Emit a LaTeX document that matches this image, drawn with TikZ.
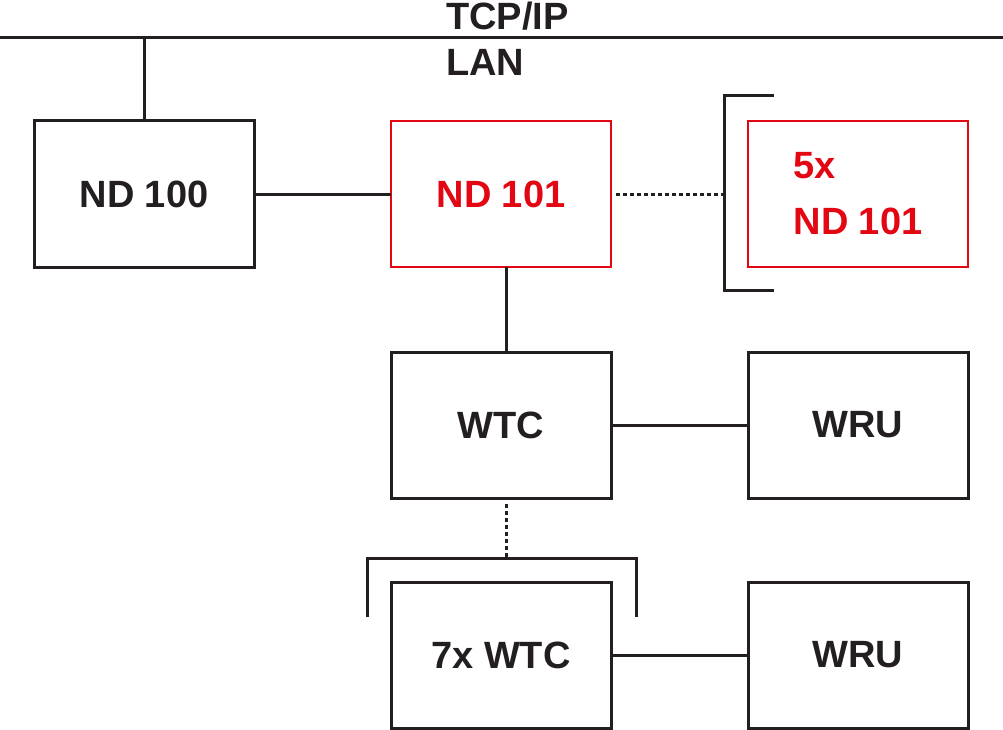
\documentclass[tikz,border=0pt]{standalone}
\usepackage{fontspec}
\setmainfont{Liberation Sans}
\usepackage{tikz}
\usetikzlibrary{
  positioning,
  calc
}
\definecolor{netred}{RGB}{227,6,19}
\definecolor{darkline}{RGB}{35,31,32}

\begin{document}
\begin{tikzpicture}[
    x=1pt, y=-1pt,
    node distance=85pt and 137pt,
    font=\fontsize{38}{45}\selectfont\bfseries,
    unitbox/.style={draw=darkline, line width=3pt, minimum width=220pt, minimum height=146pt, align=center, text=darkline, inner sep=0pt, outer sep=0pt},
    redbox/.style={unitbox, draw=netred, line width=2.5pt, text=netred},
    link/.style={draw=darkline, line width=3pt},
    dotlink/.style={draw=darkline, line width=3pt, dash pattern=on 4pt off 3pt},
]
\useasboundingbox (0,0) rectangle (1003,730);

% === LAN bus ===
\coordinate (busL) at (0,38);
\coordinate (busR) at (1003,38);
\draw[link] (busL) -- (busR);
\node[anchor=base west, text=darkline, inner sep=0pt] (tcp) at (446,30) {TCP/IP};
\node[anchor=base west, text=darkline, inner sep=0pt] (lan) at (446,76) {LAN};

% === Network devices ===
\node[unitbox] (nd100) at (144,194) {ND 100};
\node[redbox, right=of nd100] (nd101) {ND 101};
\node[redbox, right=of nd101, align=left, font=\fontsize{38}{56}\selectfont\bfseries] (ndmulti) {5x\\ND 101};

\draw[link] (nd100.north) -- (nd100.north |- busL);
\draw[link] (nd100) -- (nd101);

% bracket round the 5x ND 101
\coordinate (brA) at (724,96);
\coordinate (brB) at (724,290);
\draw[link] (774,96) -- (brA) -- (brB) -- (774,290);
\draw[dotlink, shorten <=5pt] (nd101.east) -- (nd101.east -| brA);

% === WTC / WRU ===
\node[unitbox, below=of nd101] (wtc) {WTC};
\node[unitbox, right=of wtc] (wru1) {WRU};
\node[unitbox, below=84pt of wtc] (wtcmulti) {7x WTC};
\node[unitbox, right=of wtcmulti] (wru2) {WRU};

\draw[link] ([xshift=5pt]nd101.south) -- ([xshift=5pt]wtc.north);
\draw[link] (wtc) -- (wru1);
\draw[link] (wtcmulti) -- (wru2);

% bracket round the 7x WTC
\coordinate (brC) at (367,558);
\coordinate (brD) at (636,558);
\draw[link] (367,617) -- (brC) -- (brD) -- (636,617);
\draw[dotlink, shorten <=6pt] ([xshift=5pt]wtc.south) -- ([xshift=5pt]wtc.south |- brC);

\end{tikzpicture}
\end{document}
